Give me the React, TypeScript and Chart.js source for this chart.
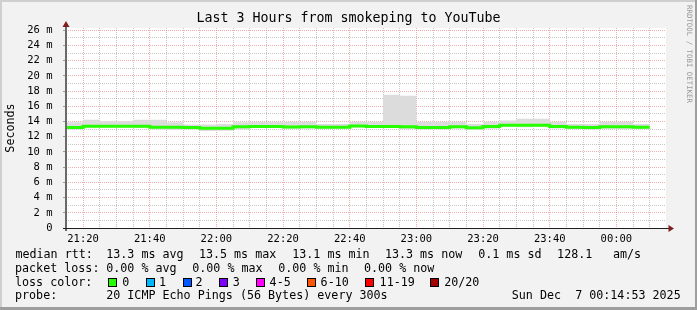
import React, { useEffect, useRef } from "react";
import { Chart, registerables } from "chart.js";

Chart.register(...registerables);

const MONO = '"DejaVu Sans Mono", monospace';

// ---------------- data ----------------
const TITLE = "Last 3 Hours from smokeping to YouTube";
const Y_TITLE = "Seconds";
const RANGE_START = "21:14:53";
const RANGE_END = "00:14:53";
const BIN_MINUTES = 5;
const Y_MAX = 26.3;

const binStarts = [
  "21:15", "21:20", "21:25", "21:30", "21:35", "21:40", "21:45", "21:50", "21:55",
  "22:00", "22:05", "22:10", "22:15", "22:20", "22:25", "22:30", "22:35", "22:40",
  "22:45", "22:50", "22:55", "23:00", "23:05", "23:10", "23:15", "23:20", "23:25",
  "23:30", "23:35", "23:40", "23:45", "23:50", "23:55", "00:00", "00:05",
];

// median round-trip time per 5-minute bin (ms)
const medianRtt = [
  13.2, 13.37, 13.37, 13.37, 13.37, 13.24, 13.24, 13.22, 13.11,
  13.11, 13.3, 13.35, 13.35, 13.27, 13.3, 13.25, 13.25, 13.4,
  13.35, 13.35, 13.32, 13.2, 13.2, 13.3, 13.18, 13.35, 13.5,
  13.52, 13.52, 13.35, 13.24, 13.22, 13.3, 13.3, 13.24,
];

// smoke (ping spread) lower and upper bounds per bin (ms)
const smokeLow = [
  12.95, 13.2, 13.2, 13.2, 13.15, 12.95, 12.9, 12.95, 12.75,
  12.8, 12.95, 13.15, 13.15, 13.05, 13.1, 13.05, 13.05, 13.2,
  13.15, 13.15, 13.0, 12.95, 12.95, 13.1, 12.9, 13.05, 13.3,
  13.25, 13.3, 13.1, 13.0, 12.95, 13.05, 13.0, 13.0,
];
const smokeHigh = [
  13.9, 14.25, 14.03, 14.03, 14.25, 14.25, 13.9, 13.6, 13.6,
  13.68, 13.9, 13.94, 13.94, 13.94, 13.94, 13.68, 13.68, 13.94,
  13.94, 17.53, 17.4, 13.94, 13.94, 13.94, 13.68, 13.94, 14.12,
  14.38, 14.38, 13.94, 13.68, 13.68, 13.94, 13.94, 13.68,
];

const xTickLabels = ["21:20", "21:40", "22:00", "22:20", "22:40", "23:00", "23:20", "23:40", "00:00"];
const yTickLabels = ["0", "2 m", "4 m", "6 m", "8 m", "10 m", "12 m", "14 m", "16 m", "18 m", "20 m", "22 m", "24 m", "26 m"];

const rttLabel = "median rtt:";
const rttStats = ["13.3 ms avg", "13.5 ms max", "13.1 ms min", "13.3 ms now", "0.1 ms sd", "128.1", "am/s"];
const lossLabel = "packet loss:";
const lossStats = ["0.00 % avg", "0.00 % max", "0.00 % min", "0.00 % now"];
const lossColorLabel = "loss color:";
const lossBuckets = ["0", "1", "2", "3", "4-5", "6-10", "11-19", "20/20"];
const lossBucketColors = ["#26ff00", "#00b8ff", "#0059ff", "#7e00ff", "#ff00ff", "#ff5500", "#ff0000", "#a10000"];
const probeLabel = "probe:";
const probeText = "20 ICMP Echo Pings (56 Bytes) every 300s";
const stampText = "Sun Dec  7 00:14:53 2025";
const watermark = "RRDTOOL / TOBI OETIKER";

// ---------------- helpers ----------------
function toMin(t: string): number {
  const p = t.split(":").map(Number);
  let h = p[0];
  if (h < 12) h += 24;
  return h * 60 + p[1] + (p[2] || 0) / 60;
}
function stepPoints(values: number[]) {
  const pts: { x: number; y: number }[] = [];
  values.forEach((v, i) => {
    const s = toMin(binStarts[i]);
    pts.push({ x: s, y: v }, { x: s + BIN_MINUTES, y: v });
  });
  return pts;
}

const X_MIN = toMin(RANGE_START);
const X_MAX = toMin(RANGE_END);
const xLabelMap = new Map<number, string>(xTickLabels.map((l) => [toMin(l), l]));
const yLabelMap = new Map<number, string>(yTickLabels.map((l) => [parseFloat(l), l]));

const xGridValues: number[] = [];
for (let m = Math.ceil(X_MIN / 5) * 5; m <= X_MAX; m += 5) xGridValues.push(m);
const yGridValues: number[] = [];
for (let v = 0; v <= Math.floor(Y_MAX); v += 1) yGridValues.push(v);

// ---------------- plugins ----------------
const framePlugin = {
  id: "rrdFrame",
  beforeDraw(chart: any) {
    const { ctx, chartArea: a, width, height } = chart;
    ctx.save();
    ctx.fillStyle = "#f2f2f2";
    ctx.fillRect(0, 0, width, height);
    ctx.fillStyle = "#cfcfcf";
    ctx.fillRect(0, 0, width, 2);
    ctx.fillRect(0, 0, 2, height);
    ctx.fillStyle = "#9e9e9e";
    ctx.fillRect(0, height - 3, width, 3);
    ctx.fillRect(width - 2, 0, 2, height);
    ctx.fillStyle = "#ffffff";
    ctx.fillRect(a.left, a.top, a.right - a.left, a.bottom - a.top);
    ctx.restore();
  },
  beforeDatasetsDraw(chart: any) {
    const { ctx, chartArea: a, scales } = chart;
    const x = scales.x;
    const y = scales.y;
    ctx.save();
    ctx.lineWidth = 1;
    ctx.setLineDash([1, 1]);
    const drawV = (v: number, color: string) => {
      const px = Math.floor(x.getPixelForValue(v)) + 0.5;
      if (px <= a.left + 1) return;
      ctx.strokeStyle = color;
      ctx.beginPath();
      ctx.moveTo(px, a.top);
      ctx.lineTo(px, a.bottom);
      ctx.stroke();
    };
    const drawH = (v: number, color: string) => {
      const py = Math.floor(y.getPixelForValue(v)) + 0.5;
      if (py >= a.bottom - 1) return;
      ctx.strokeStyle = color;
      ctx.beginPath();
      ctx.moveTo(a.left, py);
      ctx.lineTo(a.right, py);
      ctx.stroke();
    };
    const minor = "rgba(143,143,143,0.5)";
    const major = "rgba(222,79,79,0.45)";
    x.ticks.forEach((t: any) => { if (!xLabelMap.has(t.value)) drawV(t.value, minor); });
    y.ticks.forEach((t: any) => { if (!yLabelMap.has(t.value)) drawH(t.value, minor); });
    x.ticks.forEach((t: any) => { if (xLabelMap.has(t.value)) drawV(t.value, major); });
    y.ticks.forEach((t: any) => { if (yLabelMap.has(t.value)) drawH(t.value, major); });
    ctx.setLineDash([]);
    ctx.strokeStyle = "rgba(100,100,100,0.6)";
    y.ticks.forEach((t: any) => {
      if (!yLabelMap.has(t.value)) return;
      const py = Math.floor(y.getPixelForValue(t.value)) + 0.5;
      ctx.beginPath();
      ctx.moveTo(a.left - 3, py);
      ctx.lineTo(a.left, py);
      ctx.stroke();
    });
    ctx.restore();
  },
  afterDatasetsDraw(chart: any) {
    const { ctx, chartArea: a } = chart;
    ctx.save();
    ctx.fillStyle = "#6a6a6a";
    ctx.fillRect(a.left - 1, a.top - 3, 2, a.bottom - a.top + 6);
    ctx.fillStyle = "#1f1f1f";
    ctx.fillRect(a.left - 3, a.bottom, a.right - a.left + 7, 1);
    ctx.fillStyle = "#801f1f";
    ctx.beginPath();
    ctx.moveTo(a.right + 2.5, a.bottom - 3);
    ctx.lineTo(a.right + 2.5, a.bottom + 4);
    ctx.lineTo(a.right + 8, a.bottom + 0.5);
    ctx.closePath();
    ctx.fill();
    ctx.beginPath();
    ctx.moveTo(a.left - 3.5, a.top - 1);
    ctx.lineTo(a.left + 3.5, a.top - 1);
    ctx.lineTo(a.left, a.top - 7);
    ctx.closePath();
    ctx.fill();
    ctx.restore();
  },
  afterDraw(chart: any) {
    const { ctx, width } = chart;
    ctx.save();
    ctx.fillStyle = "#000";
    ctx.font = "11.7px " + MONO;
    ctx.textBaseline = "alphabetic";
    ctx.textAlign = "left";
    const r1 = 258.3, r2 = 272, r3 = 285.7, r4 = 299.4;
    ctx.fillText(rttLabel, 15.4, r1);
    const rttX = [106.2, 198.9, 292.2, 384.9, 478.2, 557.1, 613];
    rttStats.forEach((s, i) => ctx.fillText(s, rttX[i], r1));
    ctx.fillText(lossLabel, 15, r2);
    const lossX = [106.2, 192.2, 278.2, 364];
    lossStats.forEach((s, i) => ctx.fillText(s, lossX[i], r2));
    ctx.fillText(lossColorLabel, 15, r3);
    const boxX = [108, 146, 183, 219, 256, 307, 365, 430];
    const labX = [122.2, 159, 195.6, 232.8, 269.6, 320.6, 379.6, 444.2];
    lossBuckets.forEach((s, i) => {
      ctx.fillStyle = lossBucketColors[i];
      ctx.fillRect(boxX[i] + 0.5, 278.5, 8, 8);
      ctx.strokeStyle = "#000";
      ctx.lineWidth = 1;
      ctx.strokeRect(boxX[i] + 0.5, 278.5, 8, 8);
      ctx.fillStyle = "#000";
      ctx.fillText(s, labX[i], r3);
    });
    ctx.fillText(probeLabel, 15, r4);
    ctx.fillText(probeText, 106.2, r4);
    ctx.fillText(stampText, 511.8, r4);
    ctx.translate(width - 8.5, 54);
    ctx.rotate(Math.PI / 2);
    ctx.font = "7.4px " + MONO;
    ctx.fillStyle = "#999999";
    ctx.textAlign = "center";
    ctx.textBaseline = "middle";
    ctx.fillText(watermark, 0, 0);
    ctx.restore();
  },
};

export default function App() {
  const ref = useRef<HTMLCanvasElement | null>(null);
  useEffect(() => {
    const canvas = ref.current;
    if (!canvas) return;
    const chart = new Chart(canvas, {
      type: "line",
      data: {
        datasets: [
          {
            label: "smoke low",
            data: stepPoints(smokeLow),
            borderWidth: 0,
            borderColor: "rgba(0,0,0,0)",
            pointRadius: 0,
            fill: false,
            order: 2,
          },
          {
            label: "smoke high",
            data: stepPoints(smokeHigh),
            borderWidth: 0,
            borderColor: "rgba(0,0,0,0)",
            backgroundColor: "#dcdcdc",
            pointRadius: 0,
            fill: "-1",
            order: 2,
          },
          {
            label: "median rtt",
            data: stepPoints(medianRtt),
            borderColor: "#26ff00",
            borderWidth: 3,
            pointRadius: 0,
            fill: false,
            order: 1,
          },
        ],
      },
      options: {
        animation: false,
        responsive: false,
        devicePixelRatio: 1,
        events: [],
        layout: { padding: 0 },
        elements: { line: { tension: 0, borderCapStyle: "butt", borderJoinStyle: "miter" } },
        plugins: {
          legend: { display: false },
          tooltip: { enabled: false },
          title: {
            display: true,
            text: TITLE,
            color: "#000",
            font: { family: MONO, size: 13.3, weight: "normal" },
            padding: { top: 11, bottom: 1.04 },
          },
        },
        scales: {
          x: {
            type: "linear",
            position: "bottom",
            min: X_MIN,
            max: X_MAX,
            grid: { display: false },
            border: { display: false },
            afterBuildTicks: (s: any) => {
              s.ticks = xGridValues.map((v) => ({ value: v }));
            },
            ticks: {
              autoSkip: false,
              maxRotation: 0,
              minRotation: 0,
              padding: -3,
              color: "#000",
              font: { family: MONO, size: 10.5 },
              callback: (v: any) => xLabelMap.get(Number(v)) ?? "",
            },
            afterFit: (s: any) => {
              s.height = 82;
            },
          },
          y: {
            type: "linear",
            position: "left",
            min: 0,
            max: Y_MAX,
            grid: { display: false },
            border: { display: false },
            afterBuildTicks: (s: any) => {
              s.ticks = yGridValues.map((v) => ({ value: v }));
            },
            ticks: {
              autoSkip: false,
              padding: 5.5,
              color: "#000",
              font: { family: MONO, size: 10.5 },
              callback: (v: any) => yLabelMap.get(Number(v)) ?? "",
            },
            title: {
              display: true,
              text: Y_TITLE,
              color: "#000",
              font: { family: MONO, size: 11.7 },
              padding: { top: 4, bottom: 4 },
            },
            afterFit: (s: any) => {
              s.width = 66;
            },
          },
          yRight: {
            type: "linear",
            position: "right",
            display: true,
            grid: { display: false },
            border: { display: false },
            ticks: { display: false },
            afterFit: (s: any) => {
              s.width = 31;
            },
          },
        },
      },
      plugins: [framePlugin],
    } as any);
    return () => chart.destroy();
  }, []);
  return (
    <div style={{ position: "fixed", left: 0, top: 0, width: 697, height: 310 }}>
      <canvas ref={ref} width={697} height={310} style={{ display: "block", width: 697, height: 310 }} />
    </div>
  );
}
